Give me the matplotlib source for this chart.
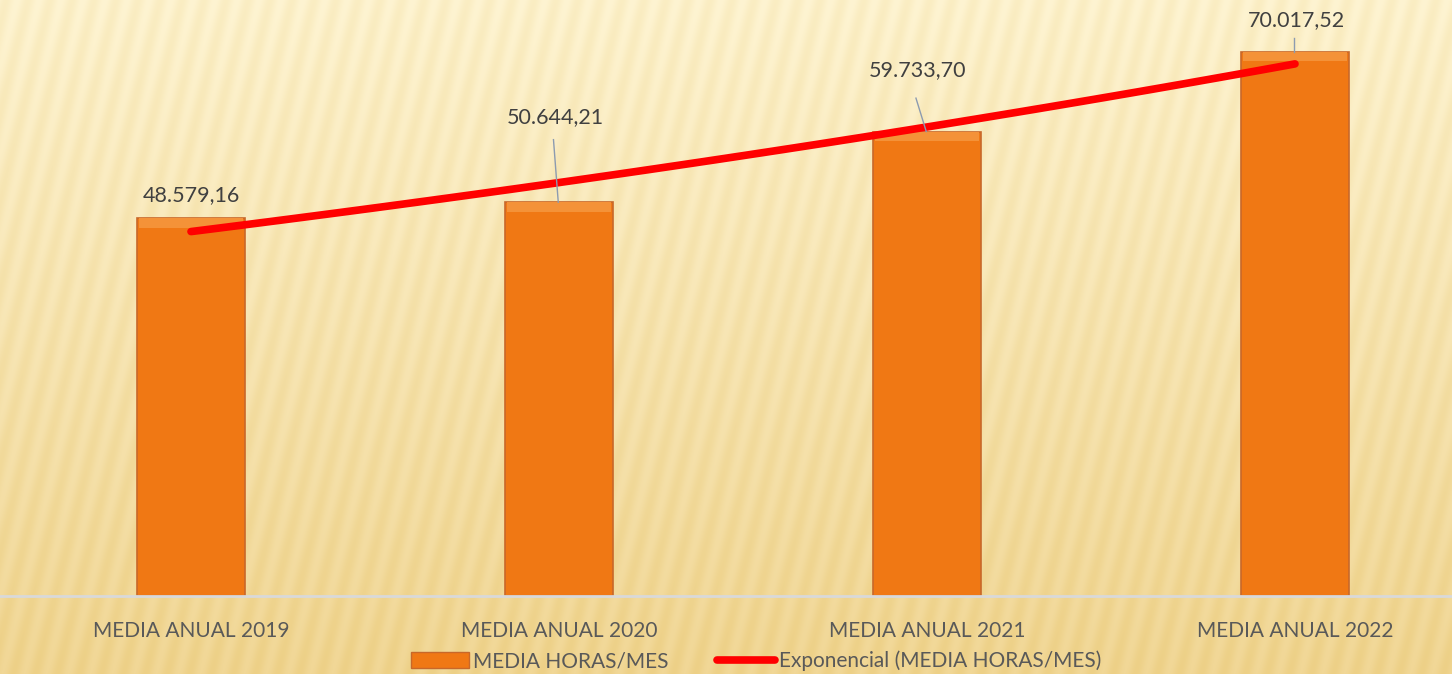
"""Media anual de horas/mes: barras + tendencia exponencial."""
import numpy as np
import matplotlib
matplotlib.use('Agg')
import matplotlib.pyplot as plt
from matplotlib.lines import Line2D
from matplotlib.patches import Patch

plt.rcParams['font.family'] = ['Lato', 'DejaVu Sans']

# datos
categories = ['MEDIA ANUAL 2019', 'MEDIA ANUAL 2020', 'MEDIA ANUAL 2021', 'MEDIA ANUAL 2022']
values = [48579.16, 50644.21, 59733.70, 70017.52]
value_labels = ['48.579,16', '50.644,21', '59.733,70', '70.017,52']

W, H = 1452, 674
fig = plt.figure(figsize=(W / 100, H / 100), dpi=100)

# fondo: degradado crema con rayas diagonales
bg = fig.add_axes([0, 0, 1, 1], zorder=-10)
yy, xx = np.mgrid[0:H, 0:W]
t = yy / H
top = np.array([254, 244, 210]) / 255
bot = np.array([241, 215, 150]) / 255
img = top[None, None, :] * (1 - t[..., None]) + bot[None, None, :] * t[..., None]
stripes = np.sin(2 * np.pi * (xx + 0.25 * yy) / 22.0)
img = img - 0.03 * (stripes[..., None] + 1) * np.array([0.25, 0.45, 1.0])
bg.imshow(np.clip(img, 0, 1), aspect='auto', extent=[0, 1, 0, 1])
bg.axis('off')

ax = fig.add_axes([0, (H - 596) / H, 1, 596 / H])
ax.patch.set_alpha(0)
x = np.arange(len(categories))
ymax = 596 / 7.775 * 1000
ax.set_xlim(-191 / 368, (W - 191) / 368)
ax.set_ylim(0, ymax)

width = 0.293
ax.bar(x, values, width, color='#f07814', edgecolor='#c8682a', linewidth=1.2, zorder=2)
# bisel superior
bevel = ymax * 0.016
ax.bar(x, [bevel] * len(values), width * 0.97, bottom=np.array(values) - bevel,
       color='#f49238', edgecolor='none', zorder=3)

# tendencia exponencial
coef = np.polyfit(x, np.log(values), 1)
xt = np.linspace(x[0], x[-1], 100)
ax.plot(xt, np.exp(np.polyval(coef, xt)), color='#ff0000', lw=5.5,
        solid_capstyle='round', zorder=4)

# etiquetas de valor (con líneas guía)
label_off = [3000, 11000, 7900, 4070]
leader_gap = [0, 2950, 3600, 2300]
dx = [0.0, -0.01, -0.025, 0.003]
for i, (v, lab) in enumerate(zip(values, value_labels)):
    ty = v + label_off[i]
    ax.text(x[i] + dx[i], ty, lab, ha='center', va='center', fontsize=15.5,
            color='#404040', zorder=5)
    if leader_gap[i] > 0:
        ax.plot([x[i] + dx[i] - 0.005, x[i] - 0.002], [ty - leader_gap[i], v],
                color='#8c9bb0', lw=1.0, zorder=5)

ax.spines[['top', 'right', 'left']].set_visible(False)
ax.spines['bottom'].set_color('#d9d9d9')
ax.spines['bottom'].set_linewidth(2)
ax.set_yticks([])
ax.set_xticks(x)
ax.set_xticklabels(categories, fontsize=15, color='#595959')
ax.tick_params(axis='x', length=0, pad=18)

handles = [Patch(facecolor='#f07814', edgecolor='#c8682a'),
           Line2D([0], [0], color='#ff0000', lw=5.5, solid_capstyle='round')]
fig.legend(handles, ['MEDIA HORAS/MES', 'Exponencial (MEDIA HORAS/MES)'],
           loc='center', bbox_to_anchor=(756 / W, 1 - 661 / H), ncol=2,
           frameon=False, fontsize=15, labelcolor='#595959',
           handlelength=2.8, handletextpad=0.2, columnspacing=2.3,
           handleheight=0.8)

fig.savefig('out.png', dpi=100)
